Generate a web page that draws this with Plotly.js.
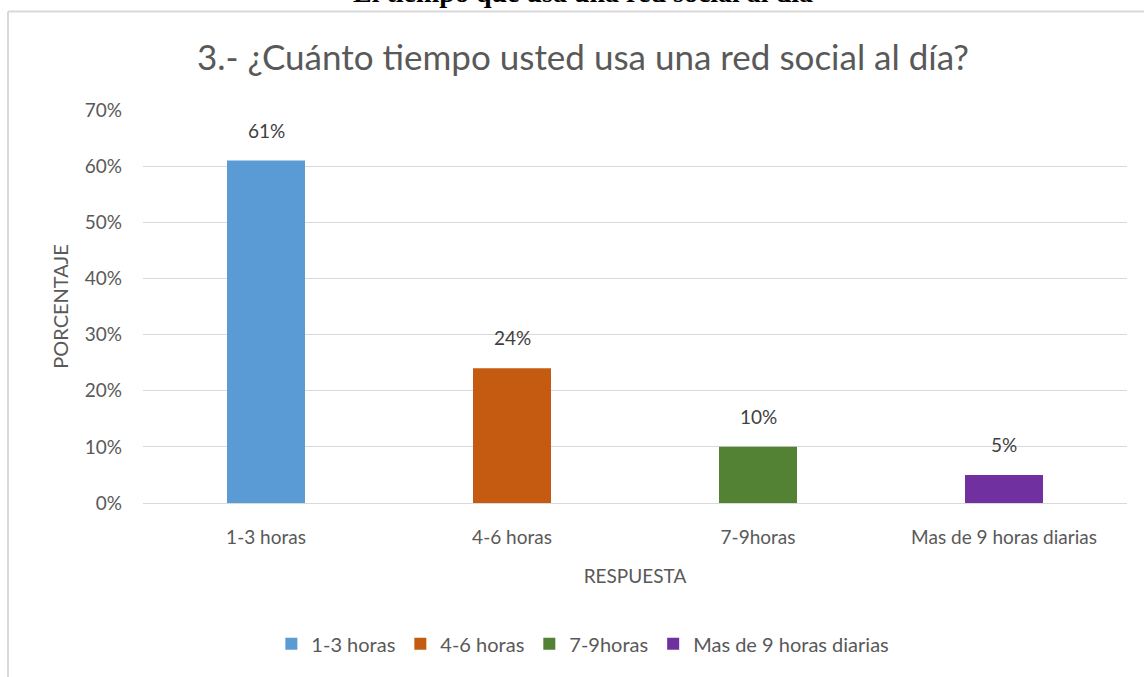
<!DOCTYPE html>
<html>
<head>
<meta charset="utf-8">
<script src="https://cdn.plot.ly/plotly-3.0.1.min.js"></script>
<style>html,body{margin:0;padding:0;background:#fff;}#chart{width:1144px;height:677px;}</style>
</head>
<body>
<div id="chart"></div>
<script>
const categories = ["1-3 horas", "4-6 horas", "7-9horas", "Mas de 9 horas diarias"];
const values = [0.61, 0.24, 0.10, 0.05];
const valueLabels = ["61%", "24%", "10%", "5%"];
const colors = ["#5B9BD5", "#C55A11", "#548235", "#7030A0"];
const yTickVals = [0, 0.1, 0.2, 0.3, 0.4, 0.5, 0.6, 0.7];
const yTickText = ["0%", "10%", "20%", "30%", "40%", "50%", "60%", "70%"];

const FONT = "Lato, 'Open Sans', sans-serif";

const traces = categories.map((c, i) => ({
  type: "bar",
  x: [c],
  y: [values[i]],
  name: c,
  width: 0.317,
  marker: { color: colors[i] },
  hoverinfo: "x+y"
}));

const annotations = categories.map((c, i) => ({
  x: c, y: values[i], xref: "x", yref: "y",
  text: valueLabels[i], showarrow: false,
  yanchor: "bottom", yshift: 17,
  font: { family: FONT, size: 19, color: "#404040" }
}));

annotations.push({
  xref: "paper", yref: "paper", x: 0.4467, y: 1.2535,
  xanchor: "center", yanchor: "bottom",
  text: "<b>El tiempo que usa una red social al día</b>",
  showarrow: false,
  font: { family: "'Liberation Serif', 'Times New Roman', serif", size: 28, color: "#000" }
});

const layout = {
  width: 1144, height: 677,
  margin: { l: 143, r: 17, t: 110, b: 174 },
  paper_bgcolor: "#fff", plot_bgcolor: "#fff",
  barmode: "overlay",
  showlegend: true,
  font: { family: FONT, color: "#595959", size: 19 },
  title: {
    text: "3.- ¿Cuánto tiempo usted usa una red social al día?",
    x: 0.5096, xref: "container", xanchor: "center",
    y: 0.914, yref: "container", yanchor: "middle",
    font: { family: FONT, size: 35, color: "#595959" }
  },
  xaxis: {
    type: "category",
    categoryorder: "array", categoryarray: categories,
    range: [-0.5, 3.5],
    showgrid: false, zeroline: false,
    showline: true, linecolor: "#d9d9d9", linewidth: 1,
    ticks: "", ticklabelstandoff: 17,
    tickfont: { family: FONT, size: 19, color: "#595959" },
    title: { text: "RESPUESTA", standoff: 22, font: { family: FONT, size: 19, color: "#595959" } }
  },
  yaxis: {
    range: [0, 0.7],
    tickvals: yTickVals, ticktext: yTickText,
    showgrid: true, gridcolor: "#d9d9d9", gridwidth: 1,
    zeroline: false, showline: false,
    ticks: "", ticklabelstandoff: 20,
    tickfont: { family: FONT, size: 19, color: "#595959" },
    title: { text: "PORCENTAJE", standoff: 10, font: { family: FONT, size: 20, color: "#595959" } }
  },
  legend: {
    orientation: "h", x: 0.447, xanchor: "center", y: -0.358, yanchor: "middle",
    font: { family: FONT, size: 20, color: "#595959" },
    itemwidth: 30, traceorder: "normal"
  },
  annotations: annotations,
  shapes: [
    { type: "line", xref: "paper", yref: "paper", x0: -0.1372, x1: 1.02, y0: 1.2506, y1: 1.2506, line: { color: "#d9d9d9", width: 2 } },
    { type: "line", xref: "paper", yref: "paper", x0: -0.1372, x1: -0.1372, y0: 1.2506, y1: -0.45, line: { color: "#d9d9d9", width: 2 } }
  ]
};

Plotly.newPlot("chart", traces, layout, { displayModeBar: false, responsive: false });
</script>
</body>
</html>
